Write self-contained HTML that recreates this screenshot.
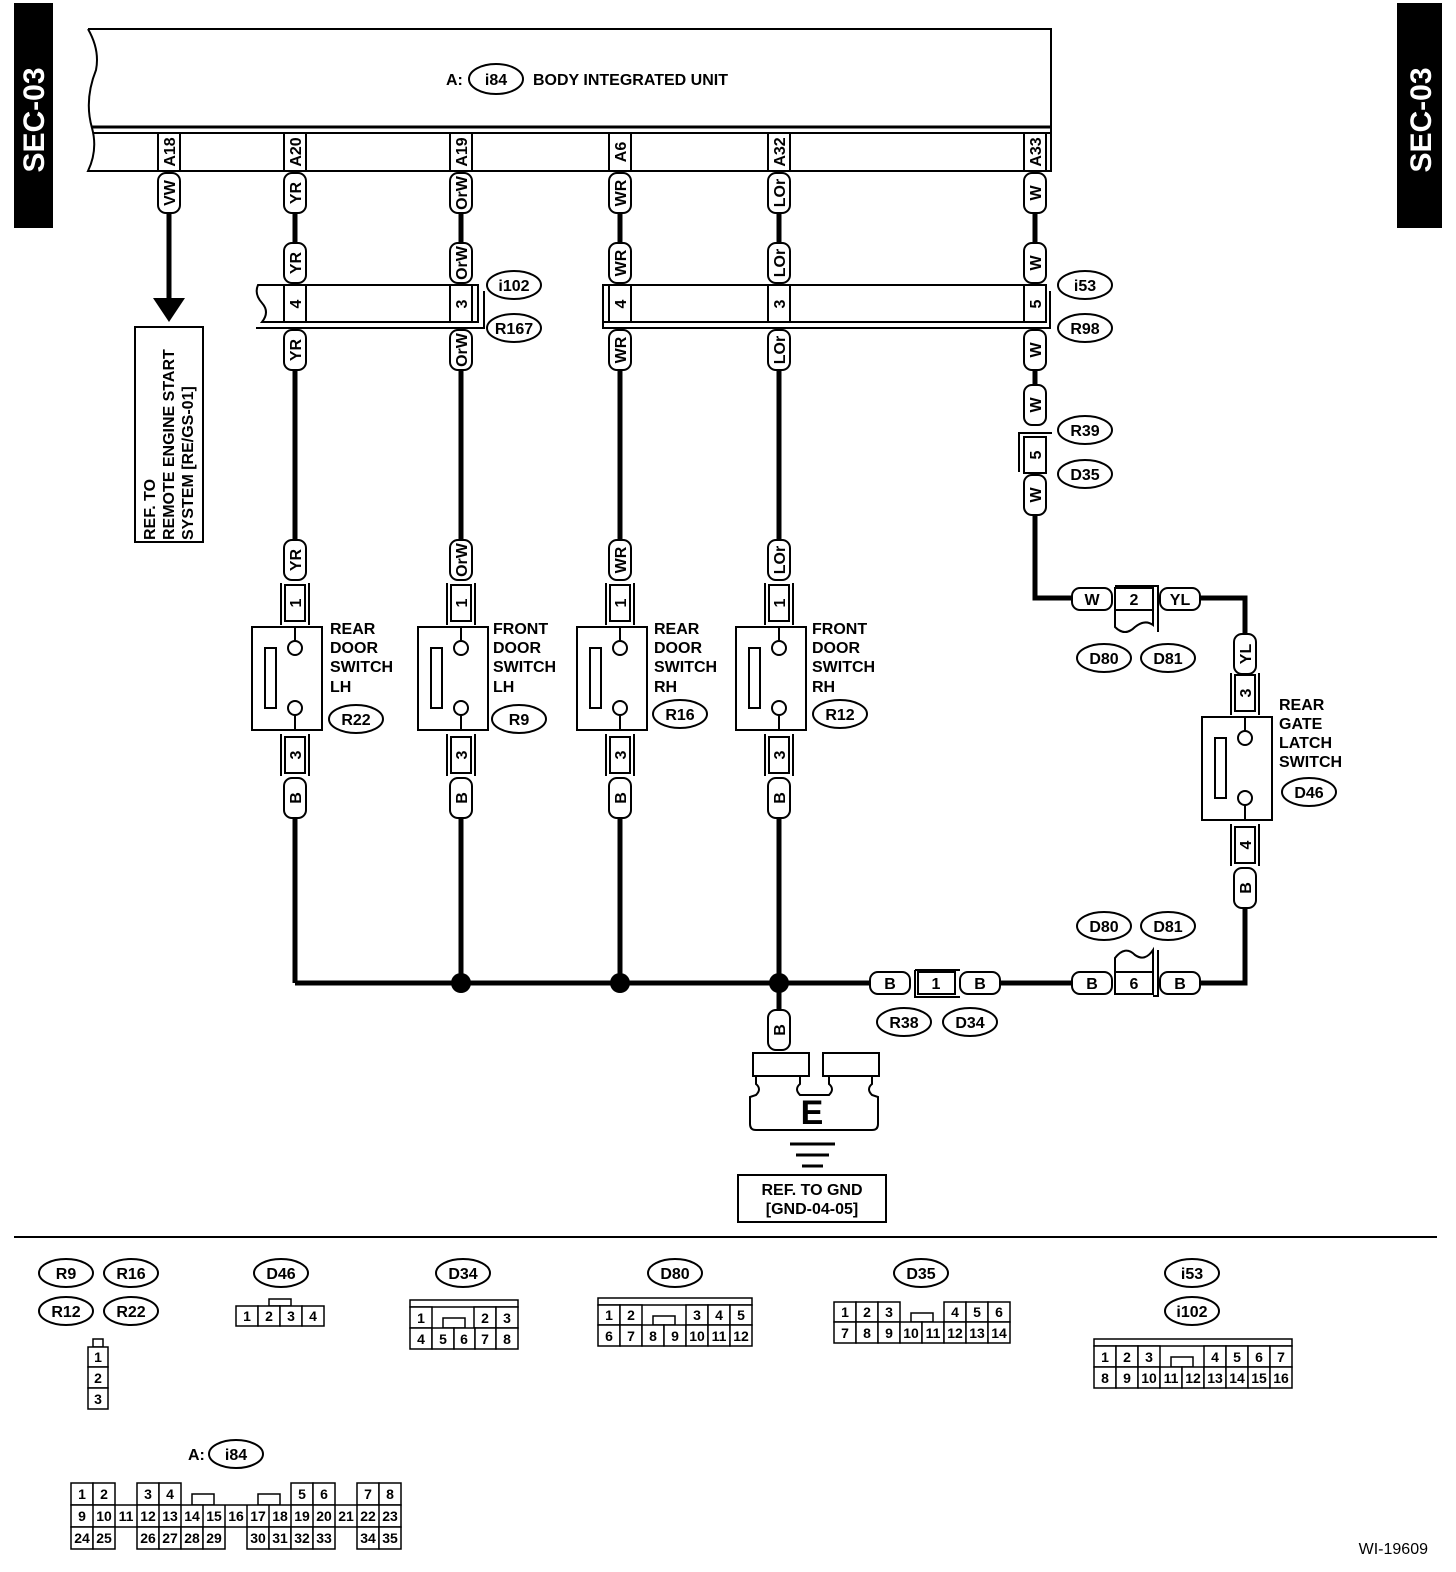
<!DOCTYPE html>
<html><head><meta charset="utf-8"><style>
html,body{margin:0;padding:0;background:#fff}
svg{display:block}
text{font-family:"Liberation Sans",sans-serif;font-weight:bold;fill:#000}
.t{font-size:16px}
.s{font-size:14px;font-weight:normal}
.w{stroke:#000;stroke-width:5;fill:none}
.b{stroke:#000;stroke-width:2;fill:#fff}
.n{stroke:#000;stroke-width:2;fill:none}
</style></head><body>
<svg width="1456" height="1572" viewBox="0 0 1456 1572" xmlns="http://www.w3.org/2000/svg">
<rect x="14" y="3" width="39" height="225" fill="#000"/>
<text transform="translate(44,120) rotate(-90)" text-anchor="middle" style="font-size:30px;fill:#fff">SEC-03</text>
<rect x="1397" y="3" width="45" height="225" fill="#000"/>
<text transform="translate(1431,120) rotate(-90)" text-anchor="middle" style="font-size:30px;fill:#fff">SEC-03</text>

<path d="M88,29 L1051,29 L1051,171 L88,171 Q98,150 92,128 Q84,100 96,70 Q100,50 88,29" class="b" stroke-width="2.5"/>
<line x1="92" y1="127" x2="1051" y2="127" stroke="#000" stroke-width="3"/>
<line x1="94" y1="133" x2="1051" y2="133" stroke="#000" stroke-width="2"/>
<text x="446" y="85" class="t">A:</text>
<ellipse cx="496" cy="79" rx="27" ry="15" class="n"/>
<text x="496" y="85" class="t" text-anchor="middle">i84</text>
<text x="533" y="85" class="t">BODY INTEGRATED UNIT</text>
<g class="b">
<rect x="158" y="133" width="22" height="38"/><rect x="284" y="133" width="22" height="38"/><rect x="450" y="133" width="22" height="38"/>
<rect x="609" y="133" width="22" height="38"/><rect x="768" y="133" width="22" height="38"/><rect x="1024" y="133" width="22" height="38"/>
</g>
<g class="t">
<text transform="translate(175,152) rotate(-90)" text-anchor="middle">A18</text>
<text transform="translate(301,152) rotate(-90)" text-anchor="middle">A20</text>
<text transform="translate(467,152) rotate(-90)" text-anchor="middle">A19</text>
<text transform="translate(626,152) rotate(-90)" text-anchor="middle">A6</text>
<text transform="translate(785,152) rotate(-90)" text-anchor="middle">A32</text>
<text transform="translate(1041,152) rotate(-90)" text-anchor="middle">A33</text>
</g>

<g class="w">
<line x1="169" y1="213" x2="169" y2="300"/>
<line x1="295" y1="213" x2="295" y2="243"/><line x1="295" y1="370" x2="295" y2="540"/><line x1="295" y1="818" x2="295" y2="983"/>
<line x1="461" y1="213" x2="461" y2="243"/><line x1="461" y1="370" x2="461" y2="540"/><line x1="461" y1="818" x2="461" y2="983"/>
<line x1="620" y1="213" x2="620" y2="243"/><line x1="620" y1="370" x2="620" y2="540"/><line x1="620" y1="818" x2="620" y2="983"/>
<line x1="779" y1="213" x2="779" y2="243"/><line x1="779" y1="370" x2="779" y2="540"/><line x1="779" y1="818" x2="779" y2="1012"/>
<line x1="1035" y1="213" x2="1035" y2="243"/><line x1="1035" y1="370" x2="1035" y2="385"/>
<polyline points="1035,515 1035,598 1072,598"/>
<polyline points="1200,598 1245,598 1245,634"/>
<line x1="295" y1="983" x2="870" y2="983"/>
<line x1="1000" y1="983" x2="1072" y2="983"/>
<polyline points="1200,983 1245,983 1245,908"/>
</g>
<polygon points="153,298 185,298 169,322" fill="#000"/>
<circle cx="461" cy="983" r="10" fill="#000"/><circle cx="620" cy="983" r="10" fill="#000"/><circle cx="779" cy="983" r="10" fill="#000"/>

<rect x="135" y="327" width="68" height="215" class="b"/>
<text transform="translate(155,540) rotate(-90)" class="t">REF. TO</text>
<text transform="translate(174,540) rotate(-90)" class="t">REMOTE ENGINE START</text>
<text transform="translate(193,540) rotate(-90)" class="t">SYSTEM [RE/GS-01]</text>

<path d="M258,285 L478,285 L478,322 L262,322 Q270,312 262,303 Q254,294 258,285 Z" class="b"/>
<polyline points="484,291 484,328 256,328" class="n"/>
<rect x="284" y="285" width="22" height="37" class="b"/><rect x="450" y="285" width="22" height="37" class="b"/>
<text transform="translate(301,304) rotate(-90)" text-anchor="middle" class="t">4</text>
<text transform="translate(467,304) rotate(-90)" text-anchor="middle" class="t">3</text>
<ellipse cx="514" cy="285" rx="27" ry="14" class="n"/><text x="514" y="291" text-anchor="middle" class="t">i102</text>
<ellipse cx="514" cy="328" rx="27" ry="14" class="n"/><text x="514" y="334" text-anchor="middle" class="t">R167</text>
<rect x="603" y="285" width="441" height="37" class="b"/>
<polyline points="1050,291 1050,328 603,328 603,285" class="n"/>
<rect x="609" y="285" width="22" height="37" class="b"/><rect x="768" y="285" width="22" height="37" class="b"/><rect x="1024" y="285" width="22" height="37" class="b"/>
<text transform="translate(626,304) rotate(-90)" text-anchor="middle" class="t">4</text>
<text transform="translate(785,304) rotate(-90)" text-anchor="middle" class="t">3</text>
<text transform="translate(1041,304) rotate(-90)" text-anchor="middle" class="t">5</text>
<ellipse cx="1085" cy="285" rx="27" ry="14" class="n"/><text x="1085" y="291" text-anchor="middle" class="t">i53</text>
<ellipse cx="1085" cy="328" rx="27" ry="14" class="n"/><text x="1085" y="334" text-anchor="middle" class="t">R98</text>

<g class="b">
<rect x="158" y="173" width="22" height="40" rx="8"/>
<rect x="284" y="173" width="22" height="40" rx="8"/><rect x="284" y="243" width="22" height="40" rx="8"/><rect x="284" y="330" width="22" height="40" rx="8"/><rect x="284" y="540" width="22" height="40" rx="8"/><rect x="284" y="778" width="22" height="40" rx="8"/>
<rect x="450" y="173" width="22" height="40" rx="8"/><rect x="450" y="243" width="22" height="40" rx="8"/><rect x="450" y="330" width="22" height="40" rx="8"/><rect x="450" y="540" width="22" height="40" rx="8"/><rect x="450" y="778" width="22" height="40" rx="8"/>
<rect x="609" y="173" width="22" height="40" rx="8"/><rect x="609" y="243" width="22" height="40" rx="8"/><rect x="609" y="330" width="22" height="40" rx="8"/><rect x="609" y="540" width="22" height="40" rx="8"/><rect x="609" y="778" width="22" height="40" rx="8"/>
<rect x="768" y="173" width="22" height="40" rx="8"/><rect x="768" y="243" width="22" height="40" rx="8"/><rect x="768" y="330" width="22" height="40" rx="8"/><rect x="768" y="540" width="22" height="40" rx="8"/><rect x="768" y="778" width="22" height="40" rx="8"/>
<rect x="768" y="1010" width="22" height="40" rx="8"/>
<rect x="1024" y="173" width="22" height="40" rx="8"/><rect x="1024" y="243" width="22" height="40" rx="8"/><rect x="1024" y="330" width="22" height="40" rx="8"/><rect x="1024" y="385" width="22" height="40" rx="8"/><rect x="1024" y="475" width="22" height="40" rx="8"/>
<rect x="1234" y="634" width="22" height="40" rx="8"/><rect x="1234" y="868" width="22" height="40" rx="8"/>
</g>
<g class="t" text-anchor="middle">
<text transform="translate(175,193) rotate(-90)">VW</text>
<text transform="translate(301,193) rotate(-90)">YR</text><text transform="translate(301,263) rotate(-90)">YR</text><text transform="translate(301,350) rotate(-90)">YR</text><text transform="translate(301,560) rotate(-90)">YR</text><text transform="translate(301,798) rotate(-90)">B</text>
<text transform="translate(467,193) rotate(-90)">OrW</text><text transform="translate(467,263) rotate(-90)">OrW</text><text transform="translate(467,350) rotate(-90)">OrW</text><text transform="translate(467,560) rotate(-90)">OrW</text><text transform="translate(467,798) rotate(-90)">B</text>
<text transform="translate(626,193) rotate(-90)">WR</text><text transform="translate(626,263) rotate(-90)">WR</text><text transform="translate(626,350) rotate(-90)">WR</text><text transform="translate(626,560) rotate(-90)">WR</text><text transform="translate(626,798) rotate(-90)">B</text>
<text transform="translate(785,193) rotate(-90)">LOr</text><text transform="translate(785,263) rotate(-90)">LOr</text><text transform="translate(785,350) rotate(-90)">LOr</text><text transform="translate(785,560) rotate(-90)">LOr</text><text transform="translate(785,798) rotate(-90)">B</text>
<text transform="translate(785,1030) rotate(-90)">B</text>
<text transform="translate(1041,193) rotate(-90)">W</text><text transform="translate(1041,263) rotate(-90)">W</text><text transform="translate(1041,350) rotate(-90)">W</text><text transform="translate(1041,405) rotate(-90)">W</text><text transform="translate(1041,495) rotate(-90)">W</text>
<text transform="translate(1251,654) rotate(-90)">YL</text><text transform="translate(1251,888) rotate(-90)">B</text>
</g>

<polyline points="1019,472 1019,433 1052,433" class="n"/>
<rect x="1024" y="437" width="22" height="36" class="b"/>
<text transform="translate(1041,455) rotate(-90)" text-anchor="middle" class="t">5</text>
<ellipse cx="1085" cy="430" rx="27" ry="14" class="n"/><text x="1085" y="436" text-anchor="middle" class="t">R39</text>
<ellipse cx="1085" cy="474" rx="27" ry="14" class="n"/><text x="1085" y="480" text-anchor="middle" class="t">D35</text>

<g id="sw">
<line x1="281" y1="583" x2="281" y2="625" class="n"/><line x1="309" y1="583" x2="309" y2="625" class="n"/>
<rect x="285" y="585" width="20" height="36" class="b"/>
<line x1="281" y1="734" x2="281" y2="776" class="n"/><line x1="309" y1="734" x2="309" y2="776" class="n"/>
<rect x="285" y="737" width="20" height="36" class="b"/>
<rect x="252" y="627" width="70" height="103" class="b"/>
<rect x="265" y="648" width="11" height="60" class="b"/>
<line x1="295" y1="627" x2="295" y2="641" class="n"/><circle cx="295" cy="648" r="7" class="b"/>
<line x1="295" y1="715" x2="295" y2="730" class="n"/><circle cx="295" cy="708" r="7" class="b"/>
</g>
<use href="#sw" x="166"/><use href="#sw" x="325"/><use href="#sw" x="484"/>
<g class="t" text-anchor="middle">
<text transform="translate(301,603) rotate(-90)">1</text><text transform="translate(301,755) rotate(-90)">3</text>
<text transform="translate(467,603) rotate(-90)">1</text><text transform="translate(467,755) rotate(-90)">3</text>
<text transform="translate(626,603) rotate(-90)">1</text><text transform="translate(626,755) rotate(-90)">3</text>
<text transform="translate(785,603) rotate(-90)">1</text><text transform="translate(785,755) rotate(-90)">3</text>
</g>
<g class="t">
<text x="330" y="634">REAR</text><text x="330" y="653">DOOR</text><text x="330" y="672">SWITCH</text><text x="330" y="692">LH</text>
<text x="493" y="634">FRONT</text><text x="493" y="653">DOOR</text><text x="493" y="672">SWITCH</text><text x="493" y="692">LH</text>
<text x="654" y="634">REAR</text><text x="654" y="653">DOOR</text><text x="654" y="672">SWITCH</text><text x="654" y="692">RH</text>
<text x="812" y="634">FRONT</text><text x="812" y="653">DOOR</text><text x="812" y="672">SWITCH</text><text x="812" y="692">RH</text>
</g>
<ellipse cx="356" cy="719" rx="27" ry="14" class="n"/><text x="356" y="725" text-anchor="middle" class="t">R22</text>
<ellipse cx="519" cy="719" rx="27" ry="14" class="n"/><text x="519" y="725" text-anchor="middle" class="t">R9</text>
<ellipse cx="680" cy="714" rx="27" ry="14" class="n"/><text x="680" y="720" text-anchor="middle" class="t">R16</text>
<ellipse cx="840" cy="714" rx="27" ry="14" class="n"/><text x="840" y="720" text-anchor="middle" class="t">R12</text>

<use href="#sw" x="950" y="90"/>
<text transform="translate(1251,693) rotate(-90)" text-anchor="middle" class="t">3</text>
<text transform="translate(1251,845) rotate(-90)" text-anchor="middle" class="t">4</text>
<g class="t"><text x="1279" y="710">REAR</text><text x="1279" y="729">GATE</text><text x="1279" y="748">LATCH</text><text x="1279" y="767">SWITCH</text></g>
<ellipse cx="1309" cy="792" rx="27" ry="14" class="n"/><text x="1309" y="798" text-anchor="middle" class="t">D46</text>

<g class="b">
<rect x="1072" y="588" width="40" height="22" rx="8"/><rect x="1160" y="588" width="40" height="22" rx="8"/>
<rect x="870" y="972" width="40" height="22" rx="8"/><rect x="960" y="972" width="40" height="22" rx="8"/>
<rect x="1072" y="972" width="40" height="22" rx="8"/><rect x="1160" y="972" width="40" height="22" rx="8"/>
</g>
<g class="t" text-anchor="middle">
<text x="1092" y="605">W</text><text x="1180" y="605">YL</text>
<text x="890" y="989">B</text><text x="980" y="989">B</text>
<text x="1092" y="989">B</text><text x="1180" y="989">B</text>
</g>
<path d="M1115,610 L1115,627 Q1125,637 1135,627 Q1145,619 1153,625 L1153,610" class="n"/>
<polyline points="1115,586 1158,586 1158,632" class="n"/>
<rect x="1115" y="588" width="38" height="22" class="b"/><text x="1134" y="605" text-anchor="middle" class="t">2</text>
<ellipse cx="1104" cy="658" rx="27" ry="14" class="n"/><text x="1104" y="664" text-anchor="middle" class="t">D80</text>
<ellipse cx="1168" cy="658" rx="27" ry="14" class="n"/><text x="1168" y="664" text-anchor="middle" class="t">D81</text>
<path d="M1115,972 L1115,958 Q1125,945 1135,955 Q1145,962 1153,950 L1153,972" class="n"/>
<polyline points="1153,996 1158,996 1158,950" class="n"/>
<rect x="1115" y="972" width="38" height="22" class="b"/><text x="1134" y="989" text-anchor="middle" class="t">6</text>
<ellipse cx="1104" cy="926" rx="27" ry="14" class="n"/><text x="1104" y="932" text-anchor="middle" class="t">D80</text>
<ellipse cx="1168" cy="926" rx="27" ry="14" class="n"/><text x="1168" y="932" text-anchor="middle" class="t">D81</text>
<polyline points="915,970 960,970" class="n"/><polyline points="915,970 915,997 960,997" class="n"/>
<rect x="918" y="972" width="37" height="22" class="b"/><text x="936" y="989" text-anchor="middle" class="t">1</text>
<ellipse cx="904" cy="1022" rx="27" ry="14" class="n"/><text x="904" y="1028" text-anchor="middle" class="t">R38</text>
<ellipse cx="970" cy="1022" rx="27" ry="14" class="n"/><text x="970" y="1028" text-anchor="middle" class="t">D34</text>

<!-- ground E -->
<path d="M756,1076 L756,1084 Q762,1089 756,1095 L750,1097 L750,1124 Q750,1130 756,1130 L872,1130 Q878,1130 878,1124 L878,1097 L872,1095 Q866,1089 872,1084 L872,1076 L829,1076 L829,1084 Q835,1089 829,1095 L800,1095 Q794,1089 800,1084 L800,1076 Z" class="b"/>
<rect x="753" y="1053" width="56" height="23" class="b"/>
<rect x="823" y="1053" width="56" height="23" class="b"/>
<text x="812" y="1124" text-anchor="middle" style="font-size:34px">E</text>
<line x1="790" y1="1144" x2="835" y2="1144" stroke="#000" stroke-width="3"/>
<line x1="796" y1="1155" x2="829" y2="1155" stroke="#000" stroke-width="3"/>
<line x1="802" y1="1166" x2="823" y2="1166" stroke="#000" stroke-width="3"/>
<rect x="738" y="1175" width="148" height="47" class="b"/>
<text x="812" y="1195" text-anchor="middle" class="t">REF. TO GND</text>
<text x="812" y="1214" text-anchor="middle" class="t">[GND-04-05]</text>

<line x1="14" y1="1237" x2="1437" y2="1237" stroke="#000" stroke-width="2"/>

<g class="n">
<ellipse cx="66" cy="1273" rx="27" ry="14"/><ellipse cx="131" cy="1273" rx="27" ry="14"/>
<ellipse cx="66" cy="1311" rx="27" ry="14"/><ellipse cx="131" cy="1311" rx="27" ry="14"/>
<ellipse cx="281" cy="1273" rx="27" ry="14"/><ellipse cx="463" cy="1273" rx="27" ry="14"/>
<ellipse cx="675" cy="1273" rx="27" ry="14"/><ellipse cx="921" cy="1273" rx="27" ry="14"/>
<ellipse cx="1192" cy="1273" rx="27" ry="14"/><ellipse cx="1192" cy="1311" rx="27" ry="14"/>
<ellipse cx="236" cy="1454" rx="27" ry="14"/>
</g>
<g class="t" text-anchor="middle">
<text x="66" y="1279">R9</text><text x="131" y="1279">R16</text><text x="66" y="1317">R12</text><text x="131" y="1317">R22</text>
<text x="281" y="1279">D46</text><text x="463" y="1279">D34</text><text x="675" y="1279">D80</text><text x="921" y="1279">D35</text>
<text x="1192" y="1279">i53</text><text x="1192" y="1317">i102</text><text x="236" y="1460">i84</text>
</g>
<text x="188" y="1460" class="t">A:</text>

<g stroke="#000" stroke-width="1.5" fill="#fff">
<rect x="93" y="1339" width="10" height="8"/>
<rect x="88" y="1347" width="20" height="20"/><rect x="88" y="1367" width="20" height="21"/><rect x="88" y="1388" width="20" height="21"/>
<rect x="269" y="1299" width="22" height="7"/>
<rect x="236" y="1306" width="22" height="20"/><rect x="258" y="1306" width="22" height="20"/><rect x="280" y="1306" width="22" height="20"/><rect x="302" y="1306" width="22" height="20"/>
<rect x="410" y="1300" width="108" height="7" fill="none"/>
<rect x="410" y="1307" width="22" height="21"/><rect x="443" y="1318" width="22" height="10"/><rect x="474" y="1307" width="22" height="21"/><rect x="496" y="1307" width="22" height="21"/>
<rect x="410" y="1328" width="22" height="21"/><rect x="432" y="1328" width="22" height="21"/><rect x="454" y="1328" width="21" height="21"/><rect x="475" y="1328" width="21" height="21"/><rect x="496" y="1328" width="22" height="21"/>
<rect x="598" y="1298" width="154" height="7" fill="none"/>
<rect x="598" y="1305" width="22" height="20"/><rect x="620" y="1305" width="22" height="20"/><rect x="653" y="1316" width="22" height="9"/><rect x="686" y="1305" width="22" height="20"/><rect x="708" y="1305" width="22" height="20"/><rect x="730" y="1305" width="22" height="20"/>
<rect x="598" y="1325" width="22" height="21"/><rect x="620" y="1325" width="22" height="21"/><rect x="642" y="1325" width="22" height="21"/><rect x="664" y="1325" width="22" height="21"/><rect x="686" y="1325" width="22" height="21"/><rect x="708" y="1325" width="22" height="21"/><rect x="730" y="1325" width="22" height="21"/>
<rect x="834" y="1302" width="22" height="20"/><rect x="856" y="1302" width="22" height="20"/><rect x="878" y="1302" width="22" height="20"/><rect x="911" y="1313" width="22" height="9"/><rect x="944" y="1302" width="22" height="20"/><rect x="966" y="1302" width="22" height="20"/><rect x="988" y="1302" width="22" height="20"/>
<rect x="834" y="1322" width="22" height="21"/><rect x="856" y="1322" width="22" height="21"/><rect x="878" y="1322" width="22" height="21"/><rect x="900" y="1322" width="22" height="21"/><rect x="922" y="1322" width="22" height="21"/><rect x="944" y="1322" width="22" height="21"/><rect x="966" y="1322" width="22" height="21"/><rect x="988" y="1322" width="22" height="21"/>
<rect x="1094" y="1339" width="198" height="7" fill="none"/>
<rect x="1094" y="1346" width="22" height="21"/><rect x="1116" y="1346" width="22" height="21"/><rect x="1138" y="1346" width="22" height="21"/><rect x="1171" y="1357" width="22" height="10"/><rect x="1204" y="1346" width="22" height="21"/><rect x="1226" y="1346" width="22" height="21"/><rect x="1248" y="1346" width="22" height="21"/><rect x="1270" y="1346" width="22" height="21"/>
<rect x="1094" y="1367" width="22" height="21"/><rect x="1116" y="1367" width="22" height="21"/><rect x="1138" y="1367" width="22" height="21"/><rect x="1160" y="1367" width="22" height="21"/><rect x="1182" y="1367" width="22" height="21"/><rect x="1204" y="1367" width="22" height="21"/><rect x="1226" y="1367" width="22" height="21"/><rect x="1248" y="1367" width="22" height="21"/><rect x="1270" y="1367" width="22" height="21"/>
<rect x="71" y="1483" width="22" height="22"/><rect x="93" y="1483" width="22" height="22"/><rect x="137" y="1483" width="22" height="22"/><rect x="159" y="1483" width="22" height="22"/>
<rect x="192" y="1494" width="22" height="11"/><rect x="258" y="1494" width="22" height="11"/>
<rect x="291" y="1483" width="22" height="22"/><rect x="313" y="1483" width="22" height="22"/><rect x="357" y="1483" width="22" height="22"/><rect x="379" y="1483" width="22" height="22"/>
<rect x="71" y="1505" width="330" height="22"/>
<rect x="71" y="1527" width="22" height="22"/><rect x="93" y="1527" width="22" height="22"/>
<rect x="137" y="1527" width="22" height="22"/><rect x="159" y="1527" width="22" height="22"/><rect x="181" y="1527" width="22" height="22"/><rect x="203" y="1527" width="22" height="22"/>
<rect x="247" y="1527" width="22" height="22"/><rect x="269" y="1527" width="22" height="22"/><rect x="291" y="1527" width="22" height="22"/><rect x="313" y="1527" width="22" height="22"/>
<rect x="357" y="1527" width="22" height="22"/><rect x="379" y="1527" width="22" height="22"/>
</g>
<g stroke="#000" stroke-width="1.5">
<line x1="93" y1="1505" x2="93" y2="1527"/><line x1="115" y1="1505" x2="115" y2="1527"/><line x1="137" y1="1505" x2="137" y2="1527"/><line x1="159" y1="1505" x2="159" y2="1527"/><line x1="181" y1="1505" x2="181" y2="1527"/><line x1="203" y1="1505" x2="203" y2="1527"/><line x1="225" y1="1505" x2="225" y2="1527"/><line x1="247" y1="1505" x2="247" y2="1527"/><line x1="269" y1="1505" x2="269" y2="1527"/><line x1="291" y1="1505" x2="291" y2="1527"/><line x1="313" y1="1505" x2="313" y2="1527"/><line x1="335" y1="1505" x2="335" y2="1527"/><line x1="357" y1="1505" x2="357" y2="1527"/><line x1="379" y1="1505" x2="379" y2="1527"/>
</g>
<g class="s" text-anchor="middle">
<text x="98" y="1362">1</text><text x="98" y="1383">2</text><text x="98" y="1404">3</text>
<text x="247" y="1321">1</text><text x="269" y="1321">2</text><text x="291" y="1321">3</text><text x="313" y="1321">4</text>
<text x="421" y="1323">1</text><text x="485" y="1323">2</text><text x="507" y="1323">3</text>
<text x="421" y="1344">4</text><text x="443" y="1344">5</text><text x="464" y="1344">6</text><text x="485" y="1344">7</text><text x="507" y="1344">8</text>
<text x="609" y="1320">1</text><text x="631" y="1320">2</text><text x="697" y="1320">3</text><text x="719" y="1320">4</text><text x="741" y="1320">5</text>
<text x="609" y="1341">6</text><text x="631" y="1341">7</text><text x="653" y="1341">8</text><text x="675" y="1341">9</text><text x="697" y="1341">10</text><text x="719" y="1341">11</text><text x="741" y="1341">12</text>
<text x="845" y="1317">1</text><text x="867" y="1317">2</text><text x="889" y="1317">3</text><text x="955" y="1317">4</text><text x="977" y="1317">5</text><text x="999" y="1317">6</text>
<text x="845" y="1338">7</text><text x="867" y="1338">8</text><text x="889" y="1338">9</text><text x="911" y="1338">10</text><text x="933" y="1338">11</text><text x="955" y="1338">12</text><text x="977" y="1338">13</text><text x="999" y="1338">14</text>
<text x="1105" y="1362">1</text><text x="1127" y="1362">2</text><text x="1149" y="1362">3</text><text x="1215" y="1362">4</text><text x="1237" y="1362">5</text><text x="1259" y="1362">6</text><text x="1281" y="1362">7</text>
<text x="1105" y="1383">8</text><text x="1127" y="1383">9</text><text x="1149" y="1383">10</text><text x="1171" y="1383">11</text><text x="1193" y="1383">12</text><text x="1215" y="1383">13</text><text x="1237" y="1383">14</text><text x="1259" y="1383">15</text><text x="1281" y="1383">16</text>
<text x="82" y="1499">1</text><text x="104" y="1499">2</text><text x="148" y="1499">3</text><text x="170" y="1499">4</text><text x="302" y="1499">5</text><text x="324" y="1499">6</text><text x="368" y="1499">7</text><text x="390" y="1499">8</text>
<text x="82" y="1521">9</text><text x="104" y="1521">10</text><text x="126" y="1521">11</text><text x="148" y="1521">12</text><text x="170" y="1521">13</text><text x="192" y="1521">14</text><text x="214" y="1521">15</text><text x="236" y="1521">16</text><text x="258" y="1521">17</text><text x="280" y="1521">18</text><text x="302" y="1521">19</text><text x="324" y="1521">20</text><text x="346" y="1521">21</text><text x="368" y="1521">22</text><text x="390" y="1521">23</text>
<text x="82" y="1543">24</text><text x="104" y="1543">25</text><text x="148" y="1543">26</text><text x="170" y="1543">27</text><text x="192" y="1543">28</text><text x="214" y="1543">29</text><text x="258" y="1543">30</text><text x="280" y="1543">31</text><text x="302" y="1543">32</text><text x="324" y="1543">33</text><text x="368" y="1543">34</text><text x="390" y="1543">35</text>
</g>
<text x="1428" y="1554" text-anchor="end" style="font-size:16px;font-weight:normal">WI-19609</text>
</svg>
</body></html>
